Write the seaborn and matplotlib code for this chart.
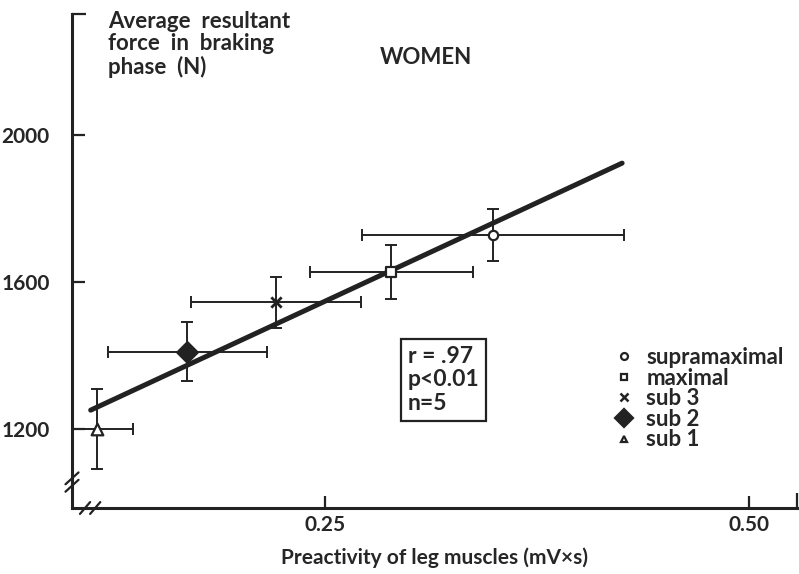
import numpy as np
import pandas as pd
import seaborn as sns
import matplotlib.pyplot as plt
from matplotlib.lines import Line2D

# data (women, braking phase)
conditions = ["supramaximal", "maximal", "sub 3", "sub 2", "sub 1"]
preactivity = [0.349, 0.289, 0.221, 0.169, 0.116]      # mV x s
preactivity_sd = [0.077, 0.048, 0.050, 0.047, 0.021]
force = [1729, 1627, 1545, 1411, 1200]                 # N
force_sd = [71, 74, 70, 80, 110]
fit_range = [0.112, 0.425]
stats_text = "r = .97\np<0.01\nn=5"

df = pd.DataFrame({"condition": conditions, "x": preactivity, "xerr": preactivity_sd,
                   "y": force, "yerr": force_sd})

sns.set_style("ticks")
plt.rcParams["font.family"] = ["Lato", "DejaVu Sans"]
plt.rcParams["font.weight"] = "bold"
ink = "#222222"

markers = {"supramaximal": "o", "maximal": "s", "sub 3": "x", "sub 2": "D", "sub 1": "^"}
msize = {"supramaximal": 45, "maximal": 45, "sub 3": 55, "sub 2": 110, "sub 1": 70}
faces = {"supramaximal": "white", "maximal": "white", "sub 3": ink, "sub 2": ink, "sub 1": "white"}

fig = plt.figure(figsize=(7.99, 5.74), dpi=100)
ax = fig.add_axes([72 / 799, 1 - 508 / 574, 725 / 799, 494 / 574])

ax.errorbar(df["x"], df["y"], xerr=df["xerr"], yerr=df["yerr"], fmt="none",
            ecolor=ink, elinewidth=1.4, capsize=4, capthick=1.4, zorder=2)

# regression line
slope, icpt = np.polyfit(df["x"], df["y"], 1)
fx = np.array(fit_range)
sns.lineplot(x=fx, y=slope * fx + icpt, ax=ax, color=ink, linewidth=3.6, zorder=3)

for c in conditions:
    sub = df[df["condition"] == c]
    if markers[c] == "x":
        sns.scatterplot(data=sub, x="x", y="y", marker="x", s=msize[c], color=ink,
                        linewidth=2, ax=ax, zorder=4)
    else:
        sns.scatterplot(data=sub, x="x", y="y", marker=markers[c], s=msize[c],
                        facecolor=faces[c], edgecolor=ink, linewidth=1.6, ax=ax, zorder=4)

ax.set_xlim(0.101, 0.528)
ax.set_ylim(985, 2330)
ax.set_xticks([0.25, 0.50], ["0.25", "0.50"])
ax.set_yticks([1200, 1600, 2000])
ax.set_xticks([0.528], minor=True)
ax.set_yticks([2330], minor=True)
ax.tick_params(which="both", direction="in", length=9, width=1.6, color=ink,
               labelsize=15)
ax.tick_params(axis="y", pad=16)
ax.tick_params(axis="x", pad=5)
ax.tick_params(axis="x", which="minor", length=11)
ax.tick_params(axis="y", which="minor", length=10)
for lab in ax.get_xticklabels() + ax.get_yticklabels():
    lab.set_fontweight("bold")
sns.despine(ax=ax)
for s in ["left", "bottom"]:
    ax.spines[s].set_linewidth(2.2)
    ax.spines[s].set_color(ink)

ax.set_xlabel("Preactivity of leg muscles (mV\u00d7s)", fontsize=15, fontweight="bold",
              labelpad=9)
ax.set_ylabel("")

# axis break marks
for x0 in [0.018, 0.032]:
    ax.plot([x0 - 0.007, x0 + 0.007], [-0.012, 0.012], transform=ax.transAxes,
            color=ink, lw=1.6, clip_on=False)
for y0 in [0.045, 0.06]:
    ax.plot([-0.009, 0.009], [y0 - 0.012, y0 + 0.012], transform=ax.transAxes,
            color=ink, lw=1.6, clip_on=False)

fig.text(108 / 799, 1 - 11 / 574, "Average  resultant\nforce  in  braking\nphase  (N)",
         ha="left", va="top", fontsize=16, fontweight="bold", linespacing=1.08)
fig.text(426 / 799, 1 - 58 / 574, "WOMEN", ha="center", va="center",
         fontsize=16, fontweight="bold")

fig.text(408 / 799, 1 - 380 / 574, stats_text, ha="left", va="center", fontsize=16.5,
         fontweight="bold", linespacing=1.15,
         bbox=dict(boxstyle="square,pad=0.3", facecolor="white", edgecolor=ink, linewidth=1.6))

handles = []
for c in conditions:
    if markers[c] == "x":
        h = Line2D([], [], ls="none", marker="x", color=ink, markersize=6, mew=1.8)
    else:
        h = Line2D([], [], ls="none", marker=markers[c], markersize=5 if c != "sub 2" else 9,
                   markerfacecolor=faces[c], markeredgecolor=ink, mew=1.6)
    handles.append(h)
ax.legend(handles, conditions, loc="upper left", bbox_to_anchor=(604 / 799, 1 - 336 / 574),
          bbox_transform=fig.transFigure, frameon=False, fontsize=16, handlelength=0.8,
          handletextpad=0.6, labelspacing=-0.02, borderpad=0)
for t in ax.get_legend().get_texts():
    t.set_fontweight("bold")

fig.savefig("out.png", dpi=100)
